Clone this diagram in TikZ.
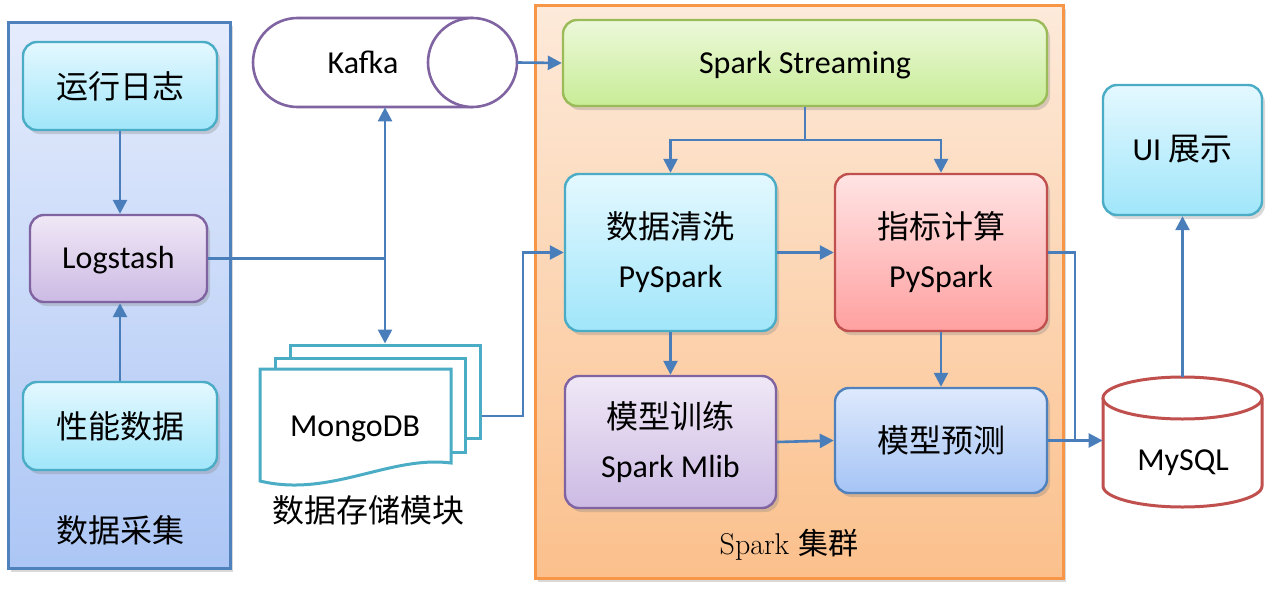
\documentclass[tikz,border=0pt]{standalone}
\usepackage{fontspec}
\newfontfamily\calib{Carlito}
\newfontfamily\cjk{Noto Sans CJK SC}
\usetikzlibrary{arrows.meta,shadows}
\definecolor{arrc}{RGB}{74,126,187}
\definecolor{pnlL}{RGB}{79,129,189}
\definecolor{pnlLt}{RGB}{229,236,252}
\definecolor{pnlLb}{RGB}{172,198,245}
\definecolor{pnlS}{RGB}{247,150,70}
\definecolor{pnlSt}{RGB}{253,234,218}
\definecolor{pnlSb}{RGB}{251,192,140}
\definecolor{cyanl}{RGB}{75,172,198}
\definecolor{cyant}{RGB}{228,248,255}
\definecolor{cyanbt}{RGB}{160,230,250}
\definecolor{purl}{RGB}{128,100,162}
\definecolor{purt}{RGB}{240,232,246}
\definecolor{purb}{RGB}{204,186,228}
\definecolor{redl}{RGB}{192,80,77}
\definecolor{redt}{RGB}{255,228,228}
\definecolor{redb}{RGB}{255,160,160}
\definecolor{bluel}{RGB}{79,129,189}
\definecolor{bluet}{RGB}{222,233,252}
\definecolor{blueb}{RGB}{165,196,245}
\definecolor{grnl}{RGB}{155,187,89}
\definecolor{grnt}{RGB}{236,249,218}
\definecolor{grnb}{RGB}{200,236,150}
\begin{document}
\begin{tikzpicture}[x=0.5pt,y=-0.5pt,
  arr/.style={draw=arrc, line width=1.3pt, -{Triangle[length=7pt,width=7pt]}},
  ln/.style={draw=arrc, line width=1.3pt},
  shad/.style={drop shadow={shadow xshift=1.5pt,shadow yshift=-2pt,opacity=0.3}},
  box/.style={rounded corners=7pt, line width=1.2pt, shad, align=center,
    font=\calib\fontsize{16}{24.5}\selectfont, inner sep=0pt},
  cyanbox/.style={box, draw=cyanl, top color=cyant, bottom color=cyanbt},
  purbox/.style={box, draw=purl, top color=purt, bottom color=purb},
  redbox/.style={box, draw=redl, top color=redt, bottom color=redb},
  bluebox/.style={box, draw=bluel, top color=bluet, bottom color=blueb},
  grnbox/.style={box, draw=grnl, top color=grnt, bottom color=grnb},
  lat/.style={text height=10.4pt, text depth=0pt},
  docst/.style={draw=cyanl, line width=1.5pt, fill=white},
  txt/.style={font=\calib\fontsize{16}{24.5}\selectfont, inner sep=0pt, lat},
  ctxt/.style={font=\cjk\fontsize{16}{20}\selectfont, inner sep=0pt}
]
\useasboundingbox (0,0) rectangle (1279,594);

% panels
\node[draw=pnlL, line width=1.5pt, top color=pnlLt, bottom color=pnlLb, shad,
  minimum width=111pt, minimum height=273pt, inner sep=0pt] (collect) at (119,295) {};
\node[ctxt] (collectlabel) at (120,530) {数据采集};
\node[draw=pnlS, line width=1.5pt, top color=pnlSt, bottom color=pnlSb, shad,
  minimum width=264pt, minimum height=286.5pt, inner sep=0pt] (spark) at (799,291.5) {};
\node[inner sep=0pt, font=\fontsize{15}{18}\selectfont] (sparklabel) at (789,545) {Spark {\cjk 集群}};

% left boxes
\node[cyanbox, minimum width=97pt, minimum height=44pt] (runlog) at (120,86) {\cjk 运行日志};
\node[purbox, lat, minimum width=88.5pt, minimum height=43.5pt] (logstash) at (118.5,258.5) {Logstash};
\node[cyanbox, minimum width=97pt, minimum height=44pt] (perf) at (120,426) {\cjk 性能数据};

% Kafka
\draw[draw=purl, line width=1.3pt, fill=white] (472.5,18) -- (297.5,18)
  arc[start angle=90, end angle=270, x radius=22.25pt, y radius=22.25pt] -- (472.5,107);
\draw[draw=purl, line width=1.3pt, fill=white] (472.5,62.5) ellipse [x radius=22.25pt, y radius=22.25pt];
\node[inner sep=0pt, minimum width=132pt, minimum height=44.5pt] (kafka) at (385,62.5) {};
\node[txt] (kafkalabel) at (363,63) {Kafka};

% MongoDB
\node[docst, minimum width=95pt, minimum height=46.5pt, inner sep=0pt] (mongo) at (385,391.5) {};
\draw[docst] (275,358) rectangle (465,452);
\draw[docst] (260,369) -- (451,369) -- (451,463)
  .. controls (390,455) and (330,498) .. (260,481) -- cycle;
\node[txt] (mongolabel) at (355,426) {MongoDB};
\node[ctxt] (storelabel) at (368,510) {数据存储模块};

% spark boxes
\node[grnbox, lat, minimum width=242pt, minimum height=43pt] (streaming) at (805,63) {Spark Streaming};
\node[cyanbox, minimum width=105.5pt, minimum height=78.5pt] (clean) at (670.5,252.5) {{\cjk 数据清洗}\\PySpark};
\node[redbox, minimum width=106pt, minimum height=78.5pt] (metric) at (941,252.5) {{\cjk 指标计算}\\PySpark};
\node[purbox, minimum width=105.5pt, minimum height=66pt] (train) at (670.5,442) {{\cjk 模型训练}\\Spark Mlib};
\node[bluebox, minimum width=106pt, minimum height=52.5pt] (predict) at (941,440.5) {\cjk 模型预测};

% right
\node[cyanbox, lat, minimum width=79.5pt, minimum height=65pt] (ui) at (1182.5,150) {UI {\cjk 展示}};
\draw[draw=redl, line width=1.5pt, fill=white] (1103,398) -- (1103,486)
  arc[start angle=180, end angle=360, x radius=39.75pt, y radius=10.5pt] -- (1262,398);
\draw[draw=redl, line width=1.5pt, fill=white] (1182.5,398) ellipse [x radius=39.75pt, y radius=10.5pt];
\node[inner sep=0pt, minimum width=79.5pt, minimum height=65pt] (mysql) at (1182.5,442) {};
\node[txt] (mysqllabel) at (1183,460) {MySQL};

% connectors
\draw[arr] (runlog.south) -- (logstash.north -| runlog.south);
\draw[arr] (perf.north) -- (logstash.south -| perf.north);
\draw[ln] (logstash.east) -- (385,258.5) coordinate (j);
\draw[arr] (j) -- (kafka.south);
\draw[arr] (j) -- (mongo.north);
\draw[arr] (kafka.east) -- (streaming.west);
\draw[arr] ([yshift=-12.25pt]mongo.east) -- (523,416) |- (clean.west);
\draw[ln] (streaming.south) -- (streaming.south |- 0,140) coordinate (b);
\draw[arr] (b) -| (clean.north);
\draw[arr] (b) -| (metric.north);
\draw[arr] (clean.east) -- (metric.west);
\draw[arr] (clean.south) -- (train.north);
\draw[arr] (metric.south) -- (predict.north);
\draw[arr] (train.east) -- (predict.west);
\draw[ln] (metric.east) -| (1075,441);
\draw[arr] (predict.east) -- (predict.east -| mysql.west);
\draw[arr] (mysql.north) -- (ui.south);
\end{tikzpicture}
\end{document}
